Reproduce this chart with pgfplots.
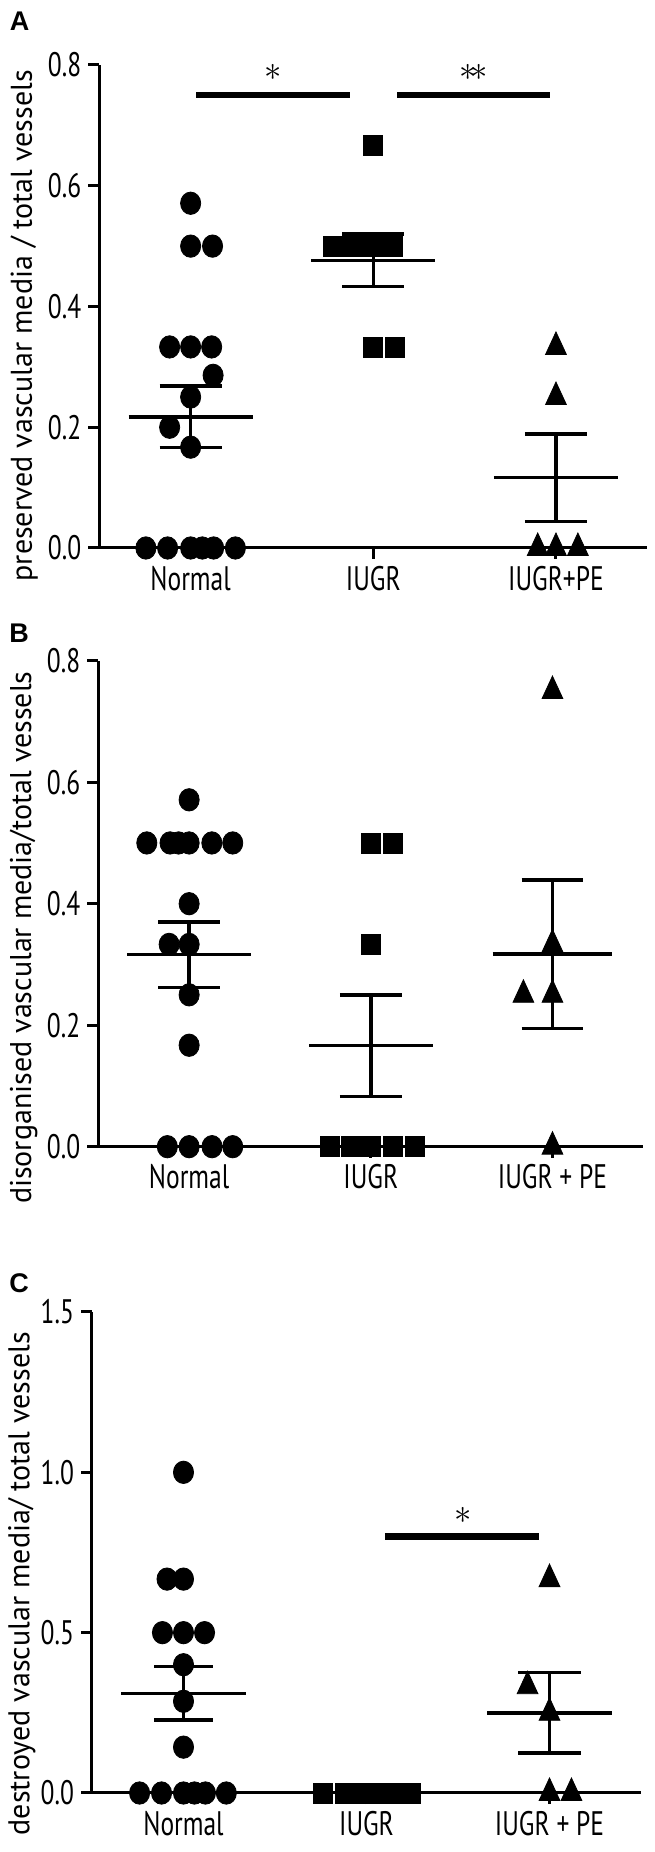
\documentclass[border=0pt]{standalone}
\usepackage{pgfplots}
\pgfplotsset{compat=1.18}
\usepackage{fontspec}
\setmainfont{PT Sans}
\newfontfamily\condfont{PT Sans}[FakeStretch=0.75]
\newfontfamily\panelfont{Liberation Sans}
\newcommand{\tickfont}{\condfont\fontsize{17}{17}\selectfont}

\pgfplotsset{
  panel/.style={
    scale only axis, clip=false,
    axis x line*=bottom, axis y line*=left,
    axis line style={line width=1.5pt, black},
    xmin=-0.5, xmax=2.5, ymin=0,
    xtick={0,1,2},
    tick align=outside, major tick length=5.5pt,
    tick style={line width=1.5pt, black},
    minor tick num=0,
    every tick label/.append style={font=\tickfont},
    /pgf/number format/assume math mode=true,
    xticklabel style={font=\tickfont},
    yticklabel style={font=\tickfont, /pgf/number format/fixed, /pgf/number format/fixed zerofill, /pgf/number format/precision=1},
    ylabel style={font=\fontsize{15}{15}\selectfont, anchor=center},
  },
  dots/.style={only marks, mark=*, black, mark size=5.6pt, mark options={fill=black, draw=none, xscale=0.9}},
  sqs/.style={only marks, mark=square*, black, mark size=5pt, mark options={fill=black, draw=none, xscale=0.95}},
  tris/.style={only marks, mark=triangle*, black, mark size=7.5pt, mark options={fill=black, draw=none, xscale=0.8}},
}
\newcommand{\seg}[4]{\addplot[black, line width=1.7pt, forget plot] coordinates {(#1,#2) (#3,#4)};}
\newcommand{\sig}[3]{\addplot[black, line width=3.3pt, forget plot] coordinates {(#1,#3) (#2,#3)};}

\begin{document}
\begin{tikzpicture}
\useasboundingbox (0,0) rectangle (327pt,926pt);

% ---------------- Panel A ----------------
\begin{axis}[panel, at={(49.65pt,652pt)}, anchor=south west,
  width=274pt, height=241.5pt, ymax=0.8, ytick={0,0.2,0.4,0.6,0.8},
  xticklabels={Normal,IUGR,IUGR+PE},
  ylabel={preserved vascular media / total vessels},
  ylabel style={at={(axis description cs:-0.137,0.46)}}]
\addplot[dots] table {
x y
0 0.571
0 0.5
0.12 0.5
-0.115 0.333
0 0.333
0.115 0.333
0.123 0.286
0 0.25
-0.115 0.2
0 0.167
-0.245 0
-0.126 0
0 0
0.064 0
0.126 0
0.245 0
};
\addplot[sqs] table {
x y
1 0.667
0.78 0.5
0.89 0.5
1 0.5
1.11 0.5
1 0.333
1.12 0.333
};
\addplot[tris] table {
x y
2 0.333
2 0.25
1.9 0
2 0
2.12 0
};
\seg{-0.34}{0.217}{0.34}{0.217}
\seg{-0.17}{0.268}{0.17}{0.268}
\seg{-0.17}{0.166}{0.17}{0.166}
\seg{0}{0.166}{0}{0.268}
\seg{0.66}{0.476}{1.34}{0.476}
\seg{0.83}{0.520}{1.17}{0.520}
\seg{0.83}{0.433}{1.17}{0.433}
\seg{1}{0.433}{1}{0.520}
\seg{1.66}{0.117}{2.34}{0.117}
\seg{1.83}{0.189}{2.17}{0.189}
\seg{1.83}{0.044}{2.17}{0.044}
\seg{2}{0.044}{2}{0.189}
\sig{0.03}{0.87}{0.75}
\sig{1.13}{1.97}{0.75}
\node[font=\fontsize{19}{19}\selectfont] at (axis cs:0.45,0.787) {$\ast$};
\node[font=\fontsize{19}{19}\selectfont] at (axis cs:1.55,0.787) {$\ast\!\ast$};
\end{axis}

% ---------------- Panel B ----------------
\begin{axis}[panel, at={(49.15pt,352.65pt)}, anchor=south west,
  width=272.5pt, height=243pt, ymax=0.8, ytick={0,0.2,0.4,0.6,0.8},
  xticklabels={Normal,IUGR,IUGR + PE},
  ylabel={disorganised vascular media/total vessels},
  ylabel style={at={(axis description cs:-0.137,0.43)}}]
\addplot[dots] table {
x y
0 0.571
-0.233 0.5
-0.105 0.5
-0.058 0.5
0 0.5
0.125 0.5
0.24 0.5
0 0.4
-0.11 0.333
0 0.333
0 0.25
0 0.167
-0.12 0
0 0
0.126 0
0.24 0
};
\addplot[sqs] table {
x y
1 0.5
1.12 0.5
1 0.333
0.775 0
0.89 0
1 0
1.12 0
1.24 0
};
\addplot[tris] table {
x y
2 0.75
2 0.333
1.84 0.25
2 0.25
2 0
};
\seg{-0.34}{0.316}{0.34}{0.316}
\seg{-0.17}{0.370}{0.17}{0.370}
\seg{-0.17}{0.262}{0.17}{0.262}
\seg{0}{0.262}{0}{0.370}
\seg{0.66}{0.167}{1.34}{0.167}
\seg{0.83}{0.250}{1.17}{0.250}
\seg{0.83}{0.083}{1.17}{0.083}
\seg{1}{0.083}{1}{0.250}
\seg{1.67}{0.317}{2.33}{0.317}
\seg{1.83}{0.439}{2.17}{0.439}
\seg{1.83}{0.195}{2.17}{0.195}
\seg{2}{0.195}{2}{0.439}
\end{axis}

% ---------------- Panel C ----------------
\begin{axis}[panel, at={(46pt,29.5pt)}, anchor=south west,
  width=274.5pt, height=240.5pt, ymax=1.5, ytick={0,0.5,1.0,1.5},
  xticklabels={Normal,IUGR,IUGR + PE},
  ylabel={destroyed vascular media/ total vessels},
  ylabel style={at={(axis description cs:-0.128,0.435)}}]
\addplot[dots] table {
x y
0 1.0
-0.09 0.667
0 0.667
-0.115 0.5
0 0.5
0.115 0.5
0 0.4
0 0.286
0 0.143
-0.24 0
-0.12 0
0 0
0.06 0
0.12 0
0.234 0
};
\addplot[sqs] table {
x y
0.76 0
0.88 0
0.94 0
1 0
1.06 0
1.12 0
1.18 0
1.24 0
};
\addplot[tris] table {
x y
2 0.667
1.88 0.333
2 0.25
2 0
2.12 0
};
\seg{-0.34}{0.311}{0.34}{0.311}
\seg{-0.16}{0.394}{0.16}{0.394}
\seg{-0.16}{0.228}{0.16}{0.228}
\seg{0}{0.228}{0}{0.394}
\seg{1.66}{0.25}{2.34}{0.25}
\seg{1.83}{0.375}{2.17}{0.375}
\seg{1.83}{0.125}{2.17}{0.125}
\seg{2}{0.125}{2}{0.375}
\sig{1.1}{1.94}{0.8}
\node[font=\fontsize{19}{19}\selectfont] at (axis cs:1.53,0.865) {$\ast$};
\end{axis}

\node[font=\panelfont\bfseries\fontsize{13.5}{13.5}\selectfont] at (9.75pt,915.25pt) {A};
\node[font=\panelfont\bfseries\fontsize{13.5}{13.5}\selectfont] at (9.5pt,609.5pt) {B};
\node[font=\panelfont\bfseries\fontsize{13.5}{13.5}\selectfont] at (9.5pt,284.5pt) {C};
\end{tikzpicture}
\end{document}
